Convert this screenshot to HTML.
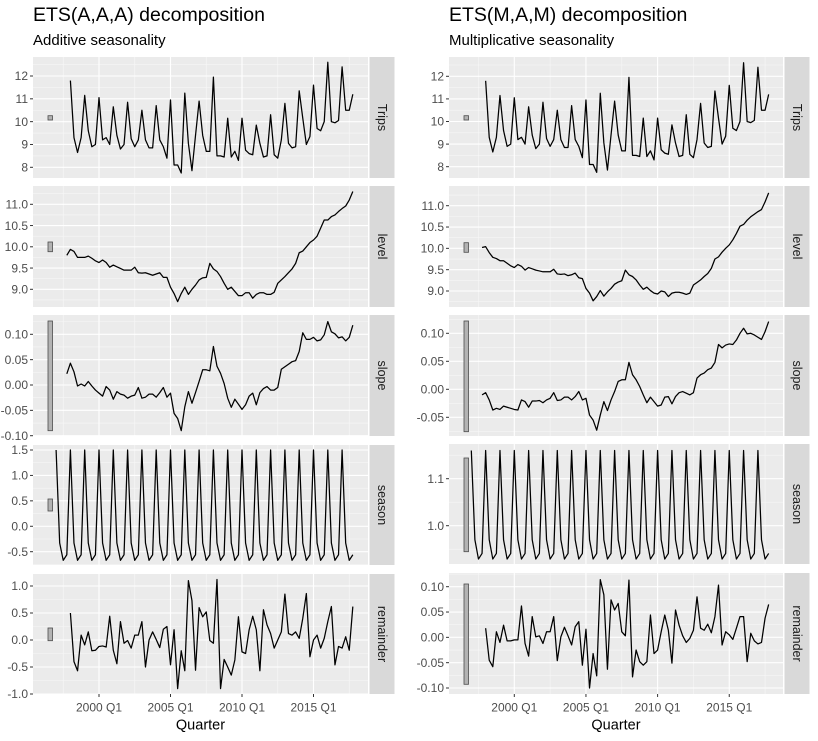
<!DOCTYPE html>
<html><head><meta charset="utf-8"><style>
html,body{margin:0;padding:0;background:#fff;}
svg{display:block;font-family:"Liberation Sans",Arial,sans-serif;}
</style></head><body>
<svg id="chart" width="818" height="741" viewBox="0 0 818 741" xmlns="http://www.w3.org/2000/svg">
<text x="33" y="21" font-size="19.5" fill="#000">ETS(A,A,A) decomposition</text>
<text x="33" y="45" font-size="15" fill="#000">Additive seasonality</text>
<text x="449" y="21" font-size="19.5" fill="#000">ETS(M,A,M) decomposition</text>
<text x="449" y="45" font-size="15" fill="#000">Multiplicative seasonality</text>
</svg>
<script>
// ---- data (quarter index 0 = 1998 Q1) ----
const xTickLabels = ["2000 Q1","2005 Q1","2010 Q1","2015 Q1"];
const xTickYears = [2000,2005,2010,2015];
const trips = [11.8,9.3,8.65,9.3,11.15,9.6,8.9,9.0,11.05,9.2,9.3,9.0,10.65,9.4,8.8,9.0,10.85,9.25,8.9,9.2,10.5,9.2,8.85,8.85,10.7,9.2,8.9,8.4,10.95,8.1,8.1,7.75,11.25,9.05,7.85,9.4,10.9,9.4,8.7,8.7,11.95,8.5,8.5,8.45,10.15,8.45,8.7,8.3,10.15,8.75,8.6,8.55,9.85,9.05,8.45,8.5,10.3,8.55,8.4,9.2,10.8,9.05,8.85,8.9,11.35,10.15,9.0,9.35,11.6,9.7,9.6,10.0,12.6,10.0,9.95,10.05,12.4,10.5,10.5,11.2];
// level & slope start 1997 Q4
const levelA = [9.8,9.94,9.89,9.75,9.75,9.75,9.78,9.73,9.67,9.63,9.69,9.63,9.52,9.57,9.53,9.49,9.45,9.45,9.45,9.52,9.39,9.38,9.39,9.36,9.33,9.36,9.39,9.28,9.28,9.05,8.9,8.71,8.9,9.05,8.88,9.0,9.1,9.22,9.27,9.28,9.61,9.48,9.42,9.3,9.14,9.0,9.05,8.95,8.85,8.85,8.92,8.92,8.79,8.88,8.92,8.92,8.88,8.88,8.93,9.14,9.22,9.3,9.39,9.48,9.61,9.86,9.9,10.0,10.1,10.16,10.25,10.44,10.63,10.63,10.71,10.75,10.83,10.9,10.96,11.1,11.3];
const slopeA = [0.022,0.043,0.026,-0.002,0.002,-0.002,0.007,-0.002,-0.01,-0.016,-0.022,-0.003,-0.01,-0.028,-0.013,-0.018,-0.02,-0.026,-0.022,-0.02,-0.005,-0.026,-0.024,-0.018,-0.018,-0.024,-0.015,-0.005,-0.024,-0.016,-0.056,-0.066,-0.09,-0.043,-0.013,-0.036,-0.015,0.007,0.03,0.03,0.028,0.076,0.037,0.023,0.003,-0.026,-0.044,-0.028,-0.038,-0.048,-0.039,-0.022,-0.016,-0.039,-0.015,-0.007,-0.003,-0.01,-0.01,-0.005,0.031,0.036,0.041,0.046,0.048,0.066,0.103,0.09,0.09,0.094,0.087,0.089,0.099,0.125,0.105,0.101,0.093,0.095,0.087,0.094,0.118];
// season starts 1997 Q1
const seasonA = [1.5,-0.33,-0.67,-0.56,1.5,-0.33,-0.67,-0.56,1.5,-0.33,-0.67,-0.56,1.5,-0.33,-0.67,-0.56,1.5,-0.33,-0.67,-0.56,1.5,-0.33,-0.67,-0.56,1.5,-0.33,-0.67,-0.56,1.5,-0.33,-0.67,-0.56,1.5,-0.33,-0.67,-0.56,1.5,-0.33,-0.67,-0.56,1.5,-0.33,-0.67,-0.56,1.5,-0.33,-0.67,-0.56,1.5,-0.33,-0.67,-0.56,1.5,-0.33,-0.67,-0.56,1.5,-0.33,-0.67,-0.56,1.5,-0.33,-0.67,-0.56,1.5,-0.33,-0.67,-0.56,1.5,-0.33,-0.67,-0.56,1.5,-0.33,-0.67,-0.56,1.5,-0.33,-0.67,-0.56,1.5,-0.33,-0.67,-0.56];
const remainderA = [0.5,-0.4,-0.57,0.09,-0.09,0.15,-0.2,-0.19,-0.12,-0.11,-0.13,0.44,-0.19,-0.44,0.34,-0.06,-0.01,-0.15,0.09,0.09,0.34,-0.5,0.0,0.15,0.01,-0.14,0.2,0.25,-0.46,0.19,-0.9,-0.2,-0.57,1.1,0.73,-0.56,0.6,0.43,0.52,-0.01,-0.06,1.12,-0.9,-0.36,-0.5,-0.65,-0.37,0.43,-0.22,-0.25,0.19,0.44,0.19,-0.57,0.56,0.28,0.12,-0.15,0.0,0.15,0.85,0.12,0.09,0.15,0.03,0.4,0.86,-0.31,0.0,0.09,-0.15,0.03,0.34,0.62,-0.46,-0.12,-0.15,0.06,-0.19,0.62];
const levelM = [10.02,10.04,9.9,9.79,9.76,9.71,9.71,9.65,9.59,9.55,9.62,9.58,9.49,9.55,9.52,9.49,9.47,9.45,9.45,9.45,9.51,9.4,9.39,9.4,9.36,9.38,9.42,9.31,9.29,9.06,8.95,8.77,8.87,9.01,8.88,8.98,9.06,9.16,9.21,9.24,9.49,9.38,9.34,9.26,9.14,9.04,9.09,9.01,8.95,8.93,9.0,8.98,8.87,8.95,8.97,8.97,8.95,8.92,8.95,9.14,9.2,9.26,9.34,9.41,9.53,9.75,9.8,9.91,10.0,10.08,10.2,10.35,10.52,10.56,10.66,10.74,10.8,10.86,10.91,11.09,11.3];
const slopeM = [-0.01,-0.006,-0.019,-0.037,-0.034,-0.036,-0.03,-0.032,-0.034,-0.036,-0.037,-0.019,-0.022,-0.032,-0.021,-0.021,-0.02,-0.024,-0.019,-0.016,-0.006,-0.02,-0.019,-0.014,-0.014,-0.019,-0.013,-0.004,-0.019,-0.016,-0.046,-0.055,-0.073,-0.046,-0.022,-0.038,-0.019,-0.004,0.014,0.017,0.017,0.048,0.026,0.017,0.005,-0.01,-0.024,-0.014,-0.022,-0.03,-0.028,-0.014,-0.013,-0.026,-0.013,-0.006,-0.004,-0.007,-0.01,-0.006,0.02,0.026,0.029,0.035,0.038,0.048,0.08,0.074,0.079,0.081,0.08,0.088,0.1,0.109,0.099,0.1,0.097,0.093,0.089,0.103,0.121];
const seasonM = [1.16,0.97,0.929,0.941,1.16,0.97,0.929,0.941,1.16,0.97,0.929,0.941,1.16,0.97,0.929,0.941,1.16,0.97,0.929,0.941,1.16,0.97,0.929,0.941,1.16,0.97,0.929,0.941,1.16,0.97,0.929,0.941,1.16,0.97,0.929,0.941,1.16,0.97,0.929,0.941,1.16,0.97,0.929,0.941,1.16,0.97,0.929,0.941,1.16,0.97,0.929,0.941,1.16,0.97,0.929,0.941,1.16,0.97,0.929,0.941,1.16,0.97,0.929,0.941,1.16,0.97,0.929,0.941,1.16,0.97,0.929,0.941,1.16,0.97,0.929,0.941,1.16,0.97,0.929,0.941,1.16,0.97,0.929,0.941];
const remainderM = [0.018,-0.045,-0.058,0.011,-0.01,0.024,-0.007,-0.007,-0.005,-0.005,0.062,-0.012,-0.037,0.041,0.001,0.003,-0.012,0.011,0.011,0.041,-0.046,0.001,0.02,0.003,-0.015,0.021,0.031,-0.055,0.016,-0.1,-0.032,-0.076,0.114,0.084,-0.063,0.074,0.054,0.067,0.011,0.003,0.113,-0.078,-0.025,-0.048,-0.055,-0.048,0.044,-0.032,-0.025,0.011,0.044,0.014,-0.051,0.054,0.024,0.003,-0.01,-0.002,0.014,0.08,0.018,0.014,0.026,0.009,0.041,0.103,-0.015,0.011,0.005,-0.004,0.018,0.041,0.041,-0.048,0.008,-0.007,-0.013,-0.01,0.038,0.065];
// tick values
const ticksTrips = [8,9,10,11,12];
const ticksLevel = [9.0,9.5,10.0,10.5,11.0];
const ticksSlopeA = [-0.10,-0.05,0.00,0.05,0.10];
const ticksSlopeM = [-0.05,0.00,0.05,0.10];
const ticksSeasonA = [-0.5,0.0,0.5,1.0,1.5];
const ticksSeasonM = [1.0,1.1];
const ticksRemA = [-1.0,-0.5,0.0,0.5,1.0];
const ticksRemM = [-0.10,-0.05,0.00,0.05,0.10];

const NS="http://www.w3.org/2000/svg";
const svg=document.getElementById('chart');
function el(tag,attrs,parent){const e=document.createElementNS(NS,tag);for(const k in attrs)e.setAttribute(k,attrs[k]);(parent||svg).appendChild(e);return e;}

const sides=[
 {key:'left',x0:33,x1:368,yr0:99,pxYr:14.3,tickLabelX:28,
  panels:[
   {name:'Trips',top:57,bot:178,cal:[12,76,8,167.3],ticks:ticksTrips,dec:0,data:trips,start:0,bar:[115.7,120]},
   {name:'level',top:186,bot:307,cal:[11,204.3,9,289.3],ticks:ticksLevel,dec:1,data:levelA,start:-1,bar:[242,251.7]},
   {name:'slope',top:315,bot:436,cal:[0.1,334.3,-0.1,435.7],ticks:ticksSlopeA,dec:2,data:slopeA,start:-1,bar:[321,430.7]},
   {name:'season',top:445,bot:565,cal:[1.5,450,-0.5,551.7],ticks:ticksSeasonA,dec:1,data:seasonA,start:-4,bar:[499,511]},
   {name:'remainder',top:574,bot:694,cal:[1,586,-1,694],ticks:ticksRemA,dec:1,data:remainderA,start:0,bar:[628,640.7]}]},
 {key:'right',x0:449,x1:783,yr0:514.3,pxYr:14.33,tickLabelX:444,
  panels:[
   {name:'Trips',top:57,bot:178,cal:[12,76.3,8,166.7],ticks:ticksTrips,dec:0,data:trips,start:0,bar:[115.7,120]},
   {name:'level',top:186,bot:307,cal:[11,205.7,9,291],ticks:ticksLevel,dec:1,data:levelM,start:-1,bar:[242.7,252.3]},
   {name:'slope',top:315,bot:436,cal:[0.1,333.3,-0.05,417.3],ticks:ticksSlopeM,dec:2,data:slopeM,start:-1,bar:[321,431.7]},
   {name:'season',top:444,bot:564,cal:[1.1,478.7,1.0,525.7],ticks:ticksSeasonM,dec:1,data:seasonM,start:-4,bar:[458,551.7]},
   {name:'remainder',top:573,bot:694,cal:[0.1,586.7,-0.1,688],ticks:ticksRemM,dec:2,data:remainderM,start:0,bar:[584,684.3]}]}
];

sides.forEach(s=>{
  const xYear=t=>s.yr0+(t-2000)*s.pxYr;
  const xq=q=>xYear(1998+q/4);
  s.panels.forEach(p=>{
    const [v0,y0,v1,y1]=p.cal;
    const yv=v=>y0+(v-v0)*(y1-y0)/(v1-v0);
    const g=el('g',{});
    
    
    const bg=el('rect',{x:s.x0,y:p.top,width:s.x1-s.x0,height:p.bot-p.top,fill:'#EBEBEB'},g);
    
    
    const step=p.ticks.length>1?p.ticks[1]-p.ticks[0]:0.1;
    for(let i=-1;i<p.ticks.length;i++){
      const v=p.ticks[0]+(i+0.5)*step;const y=yv(v);
      if(y>p.top&&y<p.bot) el('line',{x1:s.x0,x2:s.x1,y1:y,y2:y,stroke:'#F7F7F7','stroke-width':0.6},g);
    }
    for(let t=1997.5;t<2020;t+=5){const x=xYear(t);if(x>s.x0&&x<s.x1)el('line',{x1:x,x2:x,y1:p.top,y2:p.bot,stroke:'#F7F7F7','stroke-width':0.6},g);}
    p.ticks.forEach(v=>{const y=yv(v);el('line',{x1:s.x0,x2:s.x1,y1:y,y2:y,stroke:'#FFFFFF','stroke-width':1.1},g);});
    xTickYears.forEach(t=>{const x=xYear(t);el('line',{x1:x,x2:x,y1:p.top,y2:p.bot,stroke:'#FFFFFF','stroke-width':1.1},g);});
    p.ticks.forEach(v=>{
      const y=yv(v);
      el('line',{x1:s.x0-3,x2:s.x0,y1:y,y2:y,stroke:'#333','stroke-width':1},g);
      const t=el('text',{x:s.tickLabelX,y:y+4.2,'font-size':12,fill:'#4D4D4D','text-anchor':'end'},g);
      t.textContent=v.toFixed(p.dec);
      
      
    });
    const bar=el('rect',{x:s.x0+15,y:p.bar[0],width:4.5,height:p.bar[1]-p.bar[0],fill:'#B3B3B3',stroke:'#4D4D4D','stroke-width':0.8},g);
    
    
    const pts=p.data.map((v,i)=>xq(p.start+i).toFixed(2)+','+yv(v).toFixed(2)).join(' ');
    const line=el('polyline',{points:pts,fill:'none',stroke:'#000','stroke-width':1.25,'stroke-linejoin':'round'},g);
    
    
    const sx=s.x1+1.5, sw=25;
    const strip=el('rect',{x:sx,y:p.top,width:sw,height:p.bot-p.top,fill:'#D9D9D9'},g);
    
    
    const cy=(p.top+p.bot)/2, cx=sx+sw/2;
    const st=el('text',{x:cx,y:cy,'font-size':12.5,fill:'#1A1A1A','text-anchor':'middle','dominant-baseline':'central',transform:'rotate(90 '+cx+' '+cy+')'},g);
    st.textContent=p.name;
    
    
  });
  xTickYears.forEach((t,i)=>{
    const x=xYear(t);
    el('line',{x1:x,x2:x,y1:694,y2:697,stroke:'#333','stroke-width':1});
    const lab=el('text',{x:x,y:711.5,'font-size':12,fill:'#4D4D4D','text-anchor':'middle'});
    lab.textContent=xTickLabels[i];
    
    
  });
  const xt=el('text',{x:(s.x0+s.x1)/2,y:729.5,'font-size':14.5,fill:'#000','text-anchor':'middle'});
  xt.textContent='Quarter';
  
  
});
</script>
</body></html>
